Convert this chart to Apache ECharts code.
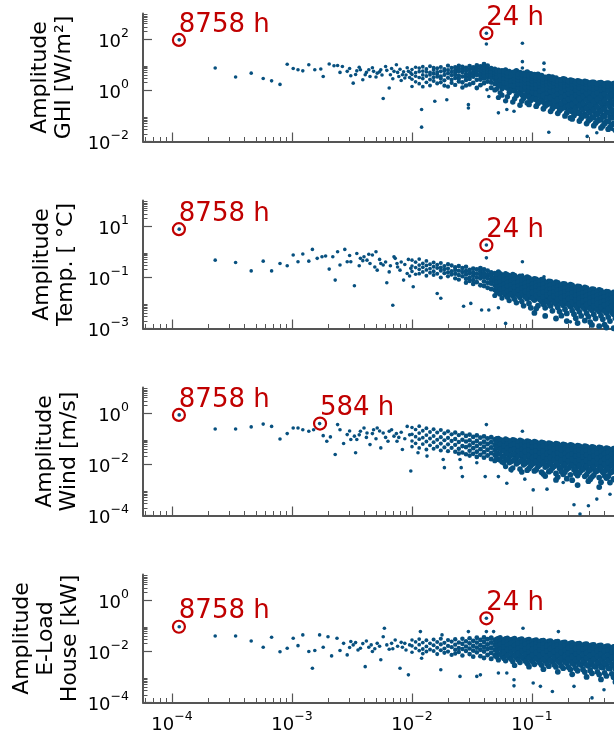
<!DOCTYPE html>
<html><head><meta charset="utf-8">
<script src="https://cdn.jsdelivr.net/npm/echarts@6/dist/echarts.min.js"></script>
<style>html,body{margin:0;padding:0;background:#fff}#c{width:614px;height:732px}</style>
</head><body><div id="c"></div><script>
// ---- DATA (stored as log10(frequency [1/h]), log10(amplitude)) ----
const panelNames = ['Amplitude\nGHI [W/m\u00b2]', 'Amplitude\nTemp. [ \u00b0C]', 'Amplitude\nWind [m/s]', 'Amplitude\nE-Load\nHouse [kW]'];
const xMajorTicks = [1e-4, 1e-3, 1e-2, 1e-1, 1];
const xLabelTicks = [1e-4, 1e-3, 1e-2, 1e-1];
const ghiYRange = [1e-2, 1e3], ghiYMajor = [1e-2, 1, 1e2];
const tempYRange = [1e-3, 1e2], tempYMajor = [1e-3, 1e-1, 1e1];
const windYRange = [1e-4, 1e1], windYMajor = [1e-4, 1e-2, 1];
const loadYRange = [1e-4, 1e1], loadYMajor = [1e-4, 1e-2, 1];

// annotated peaks: period [h], amplitude
const ghiPeakHours = [8758, 24], ghiPeakAmps = [93, 170];
const tempPeakHours = [8758, 24], tempPeakAmps = [7.6, 1.8];
const windPeakHours = [8758, 584], windPeakAmps = [0.85, 0.39];
const loadPeakHours = [8758, 24], loadPeakAmps = [0.091, 0.195];

const ghiSparse = [[-3.94,1.97],[-3.64,.87],[-3.47,.52],[-3.34,.67],[-3.24,.46],[-3.17,.37],[-3.10,.23],[-3.04,1.02],[-2.99,.85],[-2.95,.8],[-2.91,.76],[-2.86,1.0],[-2.81,.8],[-2.76,.83],[-2.74,.54],[-2.69,1.03],[-2.65,.96],[-2.62,.97],[-2.60,.7],[-2.58,.93],[-2.54,.74],[-2.52,.85],[-2.51,.57],[-2.49,.28],[-2.47,.62],[-2.46,.76],[-2.44,.9],[-2.43,.8],[-2.41,.41],[-2.39,.61],[-2.38,.7],[-2.36,.8],[-2.35,.54],[-2.33,.88],[-2.32,.74],[-2.30,.52],[-2.29,.67],[-2.27,.72],[-2.26,.8],[-2.25,.6],[-2.24,-.32],[-2.22,.93],[-2.21,.78],[-2.19,.09],[-2.18,.61],[-2.17,.85],[-2.16,.45],[-2.15,.74],[-2.13,1.0],[-2.12,.7],[-2.11,.54],[-2.10,.82],[-2.09,.38],[-2.08,.61],[-2.07,.72],[-2.06,.48],[-2.05,.6],[-2.04,.88],[-2.03,.74],[-2.02,.5],[-2.01,.68],
[-1.92,-.75],[-1.92,-1.44],[-1.81,-.43],[-1.71,-.37],[-1.53,-.56],[-1.53,-.69],[-1.375,.02],[-1.36,-.24],[-1.38,2.23],[-1.38,1.81],[-1.28,-.88],[-1.21,-.75],[-1.15,-.82],[-1.08,1.84],[-1.08,1.12],[-1.08,.87],[-0.9,1.06],[-0.9,.8],[-0.86,-1.64],[-0.54,-1.8],[-0.46,-1.66],[-0.33,-1.53]];
const ghiCols = [[-2.00,.15,.43,.62,.81],[-1.97,.33,.55,.69,.9],[-1.94,.26,.5,.73,.87],[-1.91,.14,.46,.6,.75,.92],[-1.88,.31,.56,.72,.83],[-1.85,.19,.42,.61,.7,.94],[-1.82,.36,.51,.66,.79,.88],[-1.79,.27,.53,.63,.71,.86],[-1.76,.31,.46,.55,.74,.91],[-1.73,.18,.39,.6,.75,.83],[-1.70,.14,.49,.66,.79,.96],[-1.67,.29,.42,.59,.72,.87],[-1.64,.21,.48,.61,.69,.78,.9],[-1.61,.34,.46,.58,.74,.84,.96],[-1.58,.11,.31,.54,.71,.8,.92],[-1.55,.19,.4,.52,.63,.76,.88],[-1.52,.23,.44,.55,.67,.81,.95],[-1.49,.29,.53,.63,.71,.83,.9],[-1.46,.09,.41,.6,.74,.86,.97],[-1.43,.2,.42,.56,.66,.79,.93],[-1.40,.28,.46,.59,.7,.81,.9,1.02],[-1.37,.34,.5,.61,.73,.84,.96],[-1.34,.1,.31,.49,.62,.74,.86],[-1.31,.01,.26,.44,.56,.63,.71,.83],[-1.28,-.28,.16,.34,.49,.6,.71,.79],[-1.25,-.19,.06,.29,.45,.56,.66,.77],[-1.22,-.41,.19,.39,.51,.61,.69,.8],[-1.19,-.09,.16,.34,.5,.62,.74],[-1.16,-.46,.04,.26,.39,.52,.61,.7],[-1.13,-.21,.11,.3,.43,.54,.64,.76],[-1.10,-.58,-.04,.21,.34,.47,.58,.69],[-1.07,-.31,.01,.19,.36,.46,.55,.66],[-1.04,-.49,-.11,.1,.27,.39,.5,.59,.71],[-1.01,-.39,-.16,.06,.21,.33,.44,.56,.64],[-0.98,-.26,.01,.15,.29,.41,.52,.61],[-0.95,-.51,-.21,.04,.2,.34,.46,.54,.62],[-0.92,-.36,-.09,.11,.24,.38,.49,.57],[-0.89,-.61,-.29,-.04,.14,.3,.41,.5],[-0.86,-.44,-.19,.01,.17,.31,.42,.53],[-0.83,-.71,-.39,-.14,.06,.2,.33,.44,.51],[-0.80,-.56,-.31,-.09,.11,.26,.37,.47],[-0.77,-.79,-.49,-.24,-.01,.16,.29,.41],[-0.74,-.66,-.41,-.16,.06,.21,.34,.45],[-0.71,-.88,-.54,-.31,-.09,.1,.24,.37],[-0.68,-1.08,-.74,-.46,-.19,.01,.16,.3,.4],[-0.65,-.98,-.61,-.34,-.11,.08,.22,.35],[-0.62,-.84,-.51,-.26,-.04,.13,.27,.37],[-0.59,-1.09,-.69,-.41,-.14,.05,.19,.32],[-0.56,-.94,-.59,-.31,-.07,.1,.24,.35],[-0.53,-1.19,-.79,-.49,-.21,.01,.17,.29],[-0.50,-1.04,-.69,-.39,-.16,.06,.2,.31],[-0.47,-1.28,-.89,-.56,-.26,-.01,.14,.27],[-0.44,-1.14,-.76,-.44,-.19,.03,.17,.29],[-0.41,-1.39,-.99,-.61,-.31,-.06,.12,.26],[-0.38,-1.21,-.84,-.51,-.23,.01,.15,.27],[-0.35,-1.44,-1.04,-.66,-.36,-.11,.09,.24],[-0.32,-1.29,-.91,-.54,-.24,-.03,.14,.26],[-0.29,-1.49,-1.09,-.69,-.39,-.13,.07,.23]];
const ghiColsB = [[-1.295,.05,.37,.52,.68,.77],[-1.265,-.1,.22,.4,.58,.74],[-1.235,.12,.3,.47,.64,.75],[-1.205,-.25,.08,.27,.43,.57,.68],[-1.175,-.02,.2,.36,.55,.66],[-1.145,-.33,-.03,.17,.35,.48,.6,.72],[-1.115,-.12,.09,.26,.41,.52,.63],[-1.085,-.42,-.17,.05,.24,.4,.51,.62],[-1.055,-.2,.04,.14,.31,.43,.6],[-1.025,-.55,-.27,-.03,.15,.29,.45,.58],[-0.995,-.33,-.08,.1,.25,.37,.49,.57],[-0.965,-.62,-.36,-.13,.09,.24,.4,.51],[-0.935,-.44,-.21,-.02,.17,.3,.43,.53],[-0.905,-.72,-.46,-.2,.05,.22,.34,.46],[-0.875,-.55,-.3,-.09,.08,.24,.36,.48],[-0.845,-.82,-.53,-.28,-.04,.13,.27,.39,.47],[-0.815,-.63,-.42,-.19,0,.17,.3,.43],[-0.785,-.9,-.62,-.35,-.12,.07,.22,.36],[-0.755,-.72,-.52,-.27,-.05,.12,.27,.4],[-0.725,-1.0,-.68,-.42,-.2,.03,.18,.32,.43],[-0.695,-.8,-.6,-.35,-.12,.06,.21,.35],[-0.665,-1.12,-.83,-.55,-.28,-.07,.12,.27,.38],[-0.635,-.9,-.7,-.44,-.18,.02,.18,.31],[-0.605,-1.2,-.9,-.6,-.32,-.1,.1,.25,.35],[-0.575,-1.0,-.77,-.52,-.24,-.02,.15,.3],[-0.545,-1.3,-1.0,-.7,-.38,-.12,.08,.24,.33],[-0.515,-1.13,-.86,-.58,-.3,-.06,.12,.27],[-0.485,-1.38,-1.07,-.76,-.44,-.16,.05,.22,.31],[-0.455,-1.2,-.95,-.65,-.35,-.1,.09,.25],[-0.425,-1.47,-1.15,-.82,-.49,-.2,.03,.2,.3],[-0.395,-1.3,-1.02,-.72,-.4,-.13,.07,.22],[-0.365,-1.52,-1.22,-.88,-.55,-.25,0,.17,.28],[-0.335,-1.36,-1.08,-.78,-.46,-.17,.05,.21],[-0.305,-1.56,-1.27,-.94,-.6,-.3,-.05,.15,.27],[-0.275,-1.4,-1.14,-.84,-.5,-.2,.03,.2]];

const tempSparse = [[-3.94,.88],[-3.64,-.33],[-3.47,-.42],[-3.34,-.75],[-3.24,-.37],[-3.17,-.75],[-3.10,-.46],[-3.04,-.55],[-2.99,-.13],[-2.95,-.39],[-2.91,-.09],[-2.86,-.37],[-2.83,.09],[-2.79,-.26],[-2.75,-.2],[-2.72,-.17],[-2.69,-.68],[-2.66,-.2],[-2.64,-1.11],[-2.62,0],[-2.60,-.52],[-2.56,.09],[-2.54,-.39],[-2.52,-.15],[-2.51,-.39],[-2.48,-1.33],[-2.46,-.07],[-2.44,-.55],[-2.43,-.26],[-2.41,-.35],[-2.40,-.2],[-2.375,-.33],[-2.36,-.1],[-2.35,-.46],[-2.33,-.13],[-2.31,-.6],[-2.30,0],[-2.29,-.72],[-2.27,-.3],[-2.26,-.46],[-2.24,-.52],[-2.22,-.4],[-2.21,-1.21],[-2.19,-.79],[-2.18,-.55],[-2.16,-2.09],[-2.15,-.2],[-2.14,-.26],[-2.125,-.46],[-2.12,-.6],[-2.10,-.72],[-2.09,-.4],[-2.07,-1.11],[-2.06,-.5],[-2.04,-.85],[-2.03,-.3],[-2.02,-.95],[-2.01,-.65],
[-1.99,-1.37],[-1.79,-1.63],[-1.76,-1.82],[-1.57,-2.13],[-1.51,-2.02],[-1.42,-2.28],[-1.36,-2.28],[-1.28,-2.19],[-1.22,-2.8],[-1.38,.26],[-1.38,-.24],[-1.08,-.39],[-1.08,-.91],[-0.9,-.98],[-0.9,-1.18],[-0.78,-1.3],[-0.68,-2.74]];
const tempCols = [[-2.00,-.33,-.56,-.77],[-1.97,-.41,-.62,-.88],[-1.94,-.29,-.52,-.69,-.86],[-1.91,-.46,-.61,-.79],[-1.88,-.36,-.54,-.71,-.94],[-1.85,-.49,-.66,-.82],[-1.82,-.42,-.59,-.76,-.91],[-1.79,-.51,-.64,-.86],[-1.76,-.44,-.62,-.74,-1.01],[-1.73,-.56,-.69,-.84],[-1.70,-.49,-.66,-.81,-.96],[-1.67,-.54,-.76,-.89],[-1.64,-.61,-.71,-.86,-1.04],[-1.61,-.56,-.74,-.91,-1.09],[-1.58,-.64,-.79,-.96],[-1.55,-.59,-.76,-.89,-1.06,-1.21],[-1.52,-.71,-.84,-1.01,-1.14],[-1.49,-.66,-.81,-.94,-1.11,-1.26],[-1.46,-.69,-.86,-1.01,-1.19],[-1.43,-.64,-.76,-.91,-1.04,-1.31],[-1.40,-.69,-.84,-.99,-1.16,-1.34],[-1.37,-.74,-.91,-1.04,-1.21,-1.41],[-1.34,-.81,-.94,-1.11,-1.24,-1.46],[-1.31,-.84,-1.01,-1.14,-1.31,-1.49,-1.71],[-1.28,-.79,-.96,-1.09,-1.26,-1.41,-1.61],[-1.25,-.91,-1.04,-1.21,-1.36,-1.54,-1.81],[-1.22,-.86,-.99,-1.16,-1.29,-1.46,-1.69],[-1.19,-.94,-1.11,-1.24,-1.41,-1.59,-1.91],[-1.16,-.89,-1.06,-1.19,-1.36,-1.51,-1.74],[-1.13,-1.01,-1.14,-1.31,-1.44,-1.66,-1.99],[-1.10,-.96,-1.09,-1.26,-1.39,-1.56,-1.79],[-1.07,-1.04,-1.21,-1.34,-1.51,-1.69,-2.11],[-1.04,-.99,-1.16,-1.29,-1.46,-1.61,-1.84],[-1.01,-1.11,-1.24,-1.41,-1.54,-1.76,-2.19],[-0.98,-1.06,-1.19,-1.36,-1.49,-1.66,-1.89,-2.39],[-0.95,-1.14,-1.31,-1.44,-1.61,-1.79,-2.11],[-0.92,-1.09,-1.26,-1.39,-1.56,-1.71,-1.94],[-0.89,-1.21,-1.34,-1.51,-1.64,-1.86,-2.19,-2.51],[-0.86,-1.16,-1.29,-1.46,-1.59,-1.76,-2.01],[-0.83,-1.24,-1.41,-1.54,-1.71,-1.89,-2.31],[-0.80,-1.19,-1.36,-1.49,-1.66,-1.81,-2.04,-2.61],[-0.77,-1.31,-1.44,-1.61,-1.74,-1.96,-2.34],[-0.74,-1.26,-1.39,-1.56,-1.69,-1.86,-2.09],[-0.71,-1.34,-1.51,-1.64,-1.81,-1.99,-2.41,-2.71],[-0.68,-1.29,-1.46,-1.59,-1.76,-1.91,-2.14],[-0.65,-1.41,-1.54,-1.71,-1.84,-2.06,-2.44],[-0.62,-1.36,-1.49,-1.66,-1.79,-1.96,-2.21,-2.79],[-0.59,-1.44,-1.61,-1.74,-1.91,-2.09,-2.51],[-0.56,-1.39,-1.56,-1.69,-1.86,-2.01,-2.24,-2.69],[-0.53,-1.51,-1.64,-1.81,-1.94,-2.16,-2.54],[-0.50,-1.46,-1.59,-1.76,-1.89,-2.06,-2.29,-2.86],[-0.47,-1.54,-1.71,-1.84,-2.01,-2.19,-2.61],[-0.44,-1.49,-1.66,-1.79,-1.96,-2.11,-2.34,-2.91],[-0.41,-1.61,-1.74,-1.91,-2.04,-2.26,-2.64],[-0.38,-1.56,-1.69,-1.86,-1.99,-2.16,-2.39,-2.96],[-0.35,-1.64,-1.81,-1.94,-2.11,-2.29,-2.71],[-0.32,-1.59,-1.76,-1.89,-2.06,-2.21,-2.44,-2.99],[-0.29,-1.71,-1.84,-2.01,-2.14,-2.36,-2.76]];
const tempColsB = [[-1.295,-.9,-1.07,-1.2,-1.38,-1.56],[-1.265,-.86,-1.0,-1.17,-1.33,-1.47,-1.66],[-1.235,-.95,-1.12,-1.27,-1.43,-1.62],[-1.205,-.9,-1.05,-1.2,-1.35,-1.52,-1.78],[-1.175,-.98,-1.15,-1.3,-1.47,-1.66],[-1.145,-.93,-1.09,-1.23,-1.39,-1.57,-1.86],[-1.115,-1.03,-1.19,-1.34,-1.5,-1.71],[-1.085,-.98,-1.14,-1.29,-1.44,-1.62,-1.95],[-1.055,-1.08,-1.24,-1.38,-1.55,-1.77],[-1.025,-1.03,-1.19,-1.33,-1.48,-1.67,-2.02],[-0.995,-1.13,-1.28,-1.43,-1.59,-1.82],[-0.965,-1.08,-1.23,-1.37,-1.53,-1.72,-2.22],[-0.935,-1.17,-1.33,-1.47,-1.64,-1.87],[-0.905,-1.12,-1.28,-1.42,-1.58,-1.77,-2.05],[-0.875,-1.22,-1.37,-1.52,-1.69,-1.93],[-0.845,-1.17,-1.32,-1.47,-1.63,-1.82,-2.12],[-0.815,-1.27,-1.42,-1.57,-1.73,-1.97],[-0.785,-1.22,-1.37,-1.52,-1.68,-1.87,-2.18],[-0.755,-1.32,-1.47,-1.62,-1.78,-2.02,-2.5],[-0.725,-1.27,-1.42,-1.57,-1.73,-1.92,-2.25],[-0.695,-1.37,-1.52,-1.67,-1.83,-2.07],[-0.665,-1.32,-1.47,-1.62,-1.78,-1.97,-2.3],[-0.635,-1.42,-1.57,-1.72,-1.88,-2.12,-2.6],[-0.605,-1.37,-1.52,-1.67,-1.83,-2.02,-2.35],[-0.575,-1.47,-1.62,-1.77,-1.93,-2.17],[-0.545,-1.42,-1.57,-1.72,-1.88,-2.07,-2.4],[-0.515,-1.52,-1.67,-1.82,-1.98,-2.22,-2.75],[-0.485,-1.47,-1.62,-1.77,-1.93,-2.12,-2.45],[-0.455,-1.57,-1.72,-1.87,-2.03,-2.27],[-0.425,-1.52,-1.67,-1.82,-1.98,-2.17,-2.5],[-0.395,-1.62,-1.77,-1.92,-2.08,-2.32,-2.85],[-0.365,-1.57,-1.72,-1.87,-2.03,-2.22,-2.55],[-0.335,-1.67,-1.82,-1.97,-2.13,-2.37],[-0.305,-1.62,-1.77,-1.92,-2.08,-2.27,-2.6],[-0.275,-1.72,-1.87,-2.02,-2.18,-2.42,-2.9]];

const windSparse = [[-3.94,-.07],[-3.64,-.62],[-3.47,-.62],[-3.34,-.54],[-3.24,-.43],[-3.17,-.52],[-3.10,-1.01],[-3.04,-.8],[-2.99,-.58],[-2.95,-.58],[-2.91,-.65],[-2.86,-.71],[-2.82,-.65],[-2.77,-.41],[-2.74,-.88],[-2.71,-1.1],[-2.68,-.93],[-2.64,-1.62],[-2.62,-.45],[-2.60,-.65],[-2.57,-1.19],[-2.54,-.84],[-2.52,-.7],[-2.51,-1.03],[-2.48,-.9],[-2.47,-1.55],[-2.46,-1.03],[-2.44,-.85],[-2.43,-.71],[-2.40,-.58],[-2.38,-.95],[-2.375,-.78],[-2.35,-1.23],[-2.33,-.8],[-2.32,-.65],[-2.30,-1.0],[-2.29,-.58],[-2.27,-.7],[-2.26,-1.36],[-2.24,-.78],[-2.22,-.95],[-2.20,-1.1],[-2.19,-.71],[-2.17,-.65],[-2.15,-.9],[-2.13,-.8],[-2.125,-1.1],[-2.11,-.95],[-2.09,-.75],[-2.08,-1.42],[-2.06,-1.0],[-2.04,-.52],[-2.02,-.85],
[-2.01,-2.26],[-1.95,-1.55],[-1.875,-1.68],[-1.74,-1.81],[-1.73,-2.13],[-1.60,-1.81],[-1.59,-2.13],[-1.58,-2.48],[-1.46,-1.94],[-1.39,-2.48],[-1.38,-.45],[-1.28,-2.48],[-1.21,-2.74],[-1.17,-2.26],[-1.08,-.71],[-1.06,-2.58],[-0.99,-3.0],[-0.875,-2.97],[-0.74,-2.71],[-0.65,-3.58],[-0.60,-3.94],[-0.53,-3.62],[-0.46,-3.36],[-0.35,-3.17]];
const windCols = [[-2.00,-.56,-.83,-1.09,-1.31],[-1.97,-.64,-.92,-1.18],[-1.94,-.51,-.78,-1.02,-1.36],[-1.91,-.69,-.96,-1.21],[-1.88,-.59,-.86,-1.11,-1.42],[-1.85,-.74,-.99,-1.26],[-1.82,-.63,-.89,-1.14,-1.39],[-1.79,-.76,-1.04,-1.31],[-1.76,-.66,-.94,-1.19,-1.46],[-1.73,-.79,-1.06,-1.34],[-1.70,-.71,-.97,-1.22,-1.49],[-1.67,-.83,-1.09,-1.36],[-1.64,-.76,-1.01,-1.24,-1.51],[-1.61,-.86,-1.13,-1.39,-1.58],[-1.58,-.79,-1.04,-1.29,-1.54],[-1.55,-.89,-1.11,-1.33,-1.61],[-1.52,-.84,-1.06,-1.26,-1.47,-1.66],[-1.49,-.93,-1.16,-1.37,-1.59],[-1.46,-.87,-1.09,-1.29,-1.51,-1.71],[-1.43,-.96,-1.19,-1.41,-1.63],[-1.40,-.91,-1.12,-1.31,-1.53,-1.74],[-1.37,-.99,-1.21,-1.43,-1.66],[-1.34,-.94,-1.14,-1.34,-1.56,-1.79],[-1.31,-1.03,-1.24,-1.44,-1.64,-1.86],[-1.28,-.99,-1.18,-1.37,-1.58,-1.81],[-1.25,-1.06,-1.26,-1.46,-1.69,-1.91],[-1.22,-1.01,-1.21,-1.39,-1.61,-1.84,-2.09],[-1.19,-1.09,-1.29,-1.49,-1.71,-1.94],[-1.16,-1.04,-1.23,-1.41,-1.63,-1.86,-2.14],[-1.13,-1.11,-1.31,-1.51,-1.74,-1.99],[-1.10,-1.06,-1.26,-1.44,-1.66,-1.89,-2.19],[-1.07,-1.14,-1.34,-1.54,-1.76,-2.02],[-1.04,-1.09,-1.29,-1.47,-1.69,-1.91,-2.23],[-1.01,-1.16,-1.36,-1.56,-1.79,-2.06],[-0.98,-1.12,-1.31,-1.49,-1.71,-1.94,-2.26],[-0.95,-1.19,-1.39,-1.59,-1.81,-2.09],[-0.92,-1.14,-1.34,-1.52,-1.74,-1.97,-2.31],[-0.89,-1.21,-1.41,-1.61,-1.84,-2.11,-2.46],[-0.86,-1.17,-1.36,-1.54,-1.76,-1.99,-2.29],[-0.83,-1.24,-1.44,-1.64,-1.86,-2.14],[-0.80,-1.19,-1.39,-1.57,-1.79,-2.02,-2.36,-2.61],[-0.77,-1.27,-1.47,-1.67,-1.89,-2.16],[-0.74,-1.22,-1.41,-1.59,-1.81,-2.04,-2.39],[-0.71,-1.29,-1.49,-1.69,-1.91,-2.19,-2.56],[-0.68,-1.24,-1.44,-1.62,-1.84,-2.07,-2.41],[-0.65,-1.31,-1.51,-1.71,-1.94,-2.21],[-0.62,-1.27,-1.46,-1.64,-1.86,-2.09,-2.44,-2.81],[-0.59,-1.34,-1.54,-1.74,-1.96,-2.24],[-0.56,-1.29,-1.49,-1.67,-1.89,-2.12,-2.47],[-0.53,-1.37,-1.57,-1.77,-1.99,-2.27,-2.66],[-0.50,-1.32,-1.51,-1.69,-1.91,-2.14,-2.49],[-0.47,-1.39,-1.59,-1.79,-2.01,-2.29],[-0.44,-1.34,-1.54,-1.72,-1.94,-2.17,-2.52,-2.89],[-0.41,-1.42,-1.62,-1.82,-2.04,-2.31],[-0.38,-1.37,-1.56,-1.74,-1.96,-2.19,-2.54],[-0.35,-1.44,-1.64,-1.84,-2.06,-2.34,-2.71],[-0.32,-1.39,-1.59,-1.77,-1.99,-2.22,-2.57],[-0.29,-1.47,-1.67,-1.87,-2.09,-2.37]];
const windColsB = [[-1.295,-1.0,-1.14,-1.34,-1.54,-1.75],[-1.265,-1.04,-1.2,-1.4,-1.6,-1.84],[-1.235,-1.08,-1.27,-1.48,-1.72,-1.95],[-1.205,-1.05,-1.19,-1.38,-1.58,-1.79],[-1.175,-1.1,-1.26,-1.45,-1.66,-1.9,-2.2],[-1.145,-1.06,-1.21,-1.4,-1.6,-1.81],[-1.115,-1.13,-1.28,-1.48,-1.69,-1.93],[-1.085,-1.09,-1.24,-1.42,-1.62,-1.84,-2.3],[-1.055,-1.15,-1.3,-1.5,-1.71,-1.96],[-1.025,-1.11,-1.26,-1.45,-1.65,-1.87,-2.16],[-0.995,-1.18,-1.33,-1.53,-1.74,-1.99],[-0.965,-1.14,-1.29,-1.48,-1.68,-1.9,-2.21],[-0.935,-1.2,-1.35,-1.55,-1.77,-2.02],[-0.905,-1.16,-1.31,-1.5,-1.7,-1.92,-2.38],[-0.875,-1.23,-1.38,-1.58,-1.8,-2.06],[-0.845,-1.19,-1.34,-1.53,-1.73,-1.95,-2.24],[-0.815,-1.25,-1.41,-1.61,-1.83,-2.08],[-0.785,-1.21,-1.36,-1.55,-1.75,-1.97,-2.5],[-0.755,-1.28,-1.43,-1.63,-1.85,-2.11,-2.28],[-0.725,-1.24,-1.39,-1.58,-1.78,-2.0,-2.3],[-0.695,-1.3,-1.46,-1.66,-1.88,-2.14],[-0.665,-1.26,-1.41,-1.6,-1.8,-2.02,-2.62],[-0.635,-1.33,-1.48,-1.68,-1.9,-2.17,-2.35],[-0.605,-1.29,-1.44,-1.63,-1.83,-2.05,-2.33],[-0.575,-1.35,-1.51,-1.71,-1.93,-2.19],[-0.545,-1.31,-1.46,-1.65,-1.85,-2.08,-2.4],[-0.515,-1.38,-1.53,-1.73,-1.95,-2.22,-2.58],[-0.485,-1.34,-1.49,-1.68,-1.88,-2.1,-2.42],[-0.455,-1.4,-1.56,-1.76,-1.98,-2.25],[-0.425,-1.36,-1.51,-1.7,-1.9,-2.13,-2.7],[-0.395,-1.43,-1.58,-1.78,-2.0,-2.27,-2.45],[-0.365,-1.39,-1.54,-1.73,-1.93,-2.15,-2.48],[-0.335,-1.45,-1.61,-1.81,-2.03,-2.3],[-0.305,-1.41,-1.56,-1.75,-1.95,-2.18,-2.62],[-0.275,-1.48,-1.63,-1.83,-2.05,-2.32]];

const loadSparse = [[-3.94,-1.04],[-3.64,-1.4],[-3.47,-1.4],[-3.34,-1.6],[-3.24,-1.84],[-3.17,-1.45],[-3.10,-2.02],[-3.04,-1.88],[-2.99,-1.49],[-2.95,-1.78],[-2.91,-1.36],[-2.86,-2.01],[-2.83,-2.66],[-2.81,-1.97],[-2.77,-1.36],[-2.74,-1.84],[-2.70,-1.43],[-2.67,-2.18],[-2.625,-1.49],[-2.60,-1.97],[-2.57,-1.69],[-2.54,-2.14],[-2.52,-1.85],[-2.51,-1.62],[-2.49,-1.75],[-2.47,-1.66],[-2.45,-1.95],[-2.43,-1.88],[-2.41,-1.7],[-2.39,-2.6],[-2.38,-1.6],[-2.36,-1.84],[-2.34,-1.75],[-2.33,-2.01],[-2.31,-1.9],[-2.29,-1.69],[-2.27,-1.8],[-2.26,-2.33],[-2.24,-1.43],[-2.23,-1.1],[-2.21,-1.75],[-2.19,-1.92],[-2.17,-1.69],[-2.16,-1.9],[-2.14,-1.56],[-2.12,-1.8],[-2.10,-2.66],[-2.09,-1.65],[-2.08,-1.84],[-2.06,-1.69],[-2.05,-1.95],[-2.03,-2.92],[-2.02,-1.75],
[-1.93,-1.23],[-1.92,-2.27],[-1.76,-2.72],[-1.75,-1.36],[-1.60,-2.98],[-1.53,-1.23],[-1.46,-2.98],[-1.43,-2.92],[-1.38,-.71],[-1.38,-1.23],[-1.32,-1.23],[-1.28,-2.85],[-1.21,-2.85],[-1.15,-3.11],[-1.15,-3.35],[-1.075,-1.1],[-0.99,-3.24],[-0.93,-3.37],[-0.83,-3.57],[-0.78,-1.23],[-0.65,-3.37],[-0.50,-3.82],[-0.40,-3.5]];
const loadCols = [[-2.00,-1.56,-1.79,-2.04],[-1.97,-1.63,-1.88],[-1.94,-1.52,-1.74,-1.97],[-1.91,-1.66,-1.91,-2.09],[-1.88,-1.57,-1.81,-2.01],[-1.85,-1.69,-1.93],[-1.82,-1.54,-1.76,-1.99],[-1.79,-1.64,-1.86,-2.11],[-1.76,-1.51,-1.73,-1.96],[-1.73,-1.67,-1.89,-2.06],[-1.70,-1.56,-1.79,-2.01],[-1.67,-1.62,-1.84,-2.14],[-1.64,-1.53,-1.74,-1.94,-2.09],[-1.61,-1.66,-1.87,-2.03],[-1.58,-1.51,-1.71,-1.91,-2.16],[-1.55,-1.61,-1.81,-1.99],[-1.52,-1.49,-1.69,-1.89,-2.11],[-1.49,-1.59,-1.79,-1.97,-2.21],[-1.46,-1.47,-1.66,-1.86,-2.04],[-1.43,-1.56,-1.76,-1.94,-2.19],[-1.40,-1.46,-1.64,-1.83,-2.01,-2.26],[-1.37,-1.53,-1.73,-1.91,-2.14],[-1.34,-1.47,-1.66,-1.86,-2.06,-2.29],[-1.31,-1.56,-1.74,-1.94,-2.16],[-1.28,-1.49,-1.68,-1.87,-2.09,-2.34],[-1.25,-1.57,-1.77,-1.97,-2.21],[-1.22,-1.51,-1.71,-1.89,-2.11,-2.37],[-1.19,-1.59,-1.79,-1.99,-2.24],[-1.16,-1.53,-1.73,-1.92,-2.14,-2.41],[-1.13,-1.61,-1.81,-2.01,-2.26],[-1.10,-1.54,-1.74,-1.94,-2.16,-2.44],[-1.07,-1.63,-1.83,-2.03,-2.29],[-1.04,-1.56,-1.76,-1.96,-2.19,-2.47],[-1.01,-1.64,-1.84,-2.06,-2.31],[-0.98,-1.58,-1.78,-1.98,-2.21,-2.51],[-0.95,-1.66,-1.86,-2.08,-2.34],[-0.92,-1.59,-1.79,-2.01,-2.24,-2.54],[-0.89,-1.68,-1.89,-2.11,-2.37],[-0.86,-1.61,-1.81,-2.03,-2.27,-2.58],[-0.83,-1.69,-1.91,-2.13,-2.41],[-0.80,-1.63,-1.84,-2.06,-2.29,-2.61],[-0.77,-1.71,-1.93,-2.16,-2.44],[-0.74,-1.66,-1.87,-2.09,-2.33,-2.66],[-0.71,-1.74,-1.96,-2.19,-2.47],[-0.68,-1.69,-1.89,-2.12,-2.36,-2.71],[-0.65,-1.76,-1.99,-2.22,-2.51],[-0.62,-1.71,-1.92,-2.14,-2.39,-2.76],[-0.59,-1.79,-2.01,-2.24,-2.54],[-0.56,-1.73,-1.94,-2.17,-2.43,-2.81],[-0.53,-1.81,-2.04,-2.27,-2.57],[-0.50,-1.76,-1.97,-2.19,-2.46,-2.86],[-0.47,-1.84,-2.06,-2.29,-2.61],[-0.44,-1.78,-1.99,-2.22,-2.49,-2.91],[-0.41,-1.86,-2.09,-2.32,-2.64],[-0.38,-1.81,-2.02,-2.26,-2.53,-2.96],[-0.35,-1.89,-2.11,-2.35,-2.68],[-0.32,-1.83,-2.04,-2.28,-2.56,-3.01],[-0.29,-1.91,-2.14,-2.37,-2.71]];
const loadColsB = [[-1.295,-1.52,-1.62,-1.8,-1.99,-2.22],[-1.265,-1.47,-1.6,-1.71,-1.9,-2.12],[-1.235,-1.54,-1.65,-1.83,-2.02,-2.28],[-1.205,-1.49,-1.62,-1.74,-1.93,-2.16],[-1.175,-1.55,-1.68,-1.86,-2.05,-2.31],[-1.145,-1.5,-1.64,-1.77,-1.96,-2.19,-2.55],[-1.115,-1.57,-1.7,-1.88,-2.08,-2.34],[-1.085,-1.52,-1.66,-1.8,-1.99,-2.22],[-1.055,-1.59,-1.72,-1.9,-2.11,-2.38],[-1.025,-1.54,-1.68,-1.82,-2.02,-2.25,-2.6],[-0.995,-1.61,-1.74,-1.93,-2.14,-2.41],[-0.965,-1.56,-1.7,-1.85,-2.05,-2.28],[-0.935,-1.63,-1.76,-1.95,-2.17,-2.45],[-0.905,-1.58,-1.72,-1.87,-2.08,-2.32,-2.7],[-0.875,-1.65,-1.78,-1.98,-2.2,-2.49],[-0.845,-1.6,-1.74,-1.9,-2.11,-2.35],[-0.815,-1.67,-1.81,-2.01,-2.23,-2.53],[-0.785,-1.62,-1.76,-1.93,-2.14,-2.38,-2.8],[-0.755,-1.69,-1.83,-2.04,-2.27,-2.57],[-0.725,-1.65,-1.79,-1.96,-2.17,-2.41],[-0.695,-1.72,-1.86,-2.07,-2.3,-2.62],[-0.665,-1.67,-1.81,-1.99,-2.21,-2.46,-2.9],[-0.635,-1.74,-1.89,-2.1,-2.33,-2.66],[-0.605,-1.7,-1.84,-2.02,-2.24,-2.5],[-0.575,-1.77,-1.91,-2.13,-2.37,-2.71],[-0.545,-1.72,-1.87,-2.05,-2.27,-2.54,-3.0],[-0.515,-1.79,-1.94,-2.16,-2.4,-2.75],[-0.485,-1.75,-1.89,-2.08,-2.31,-2.58],[-0.455,-1.82,-1.97,-2.19,-2.44,-2.8],[-0.425,-1.77,-1.92,-2.11,-2.34,-2.62,-3.1],[-0.395,-1.84,-1.99,-2.22,-2.47,-2.84],[-0.365,-1.8,-1.95,-2.14,-2.37,-2.66],[-0.335,-1.87,-2.02,-2.25,-2.51,-2.88],[-0.305,-1.82,-1.97,-2.17,-2.41,-2.7,-3.2],[-0.275,-1.89,-2.05,-2.28,-2.54,-2.92]];

// ---- BUILD ----
const FONT = 'DejaVu Sans';
const DOT = '#07507f', RED = '#c00000', AX = '#555555';
const unlog = p => [Math.pow(10, p[0]), Math.pow(10, p[1])];
const colsToPts = cols => { const out = []; cols.forEach(c => { for (let i = 1; i < c.length; i++) out.push(unlog([c[0], c[i]])); }); return out; };
const minorOf = exps => { const r = []; exps.forEach(e => { for (let m = 2; m <= 9; m++) r.push(m * Math.pow(10, e)); }); return r; };
const xMinorTicks = minorOf([-5, -4, -3, -2, -1]);
const expLabel = v => { const e = Math.round(Math.log10(v)); return '{b|10}{s|' + (e < 0 ? '\u2212' + (-e) : e) + '}'; };
const rich = { b: { fontSize: 18, fontFamily: FONT, color: '#000', lineHeight: 24, verticalAlign: 'bottom' },
               s: { fontSize: 12.5, fontFamily: FONT, color: '#000', lineHeight: 24, verticalAlign: 'top' } };
// marker size grows where the spectrum's points crowd together (style only)
const denseSize = v => Math.max(3.6, Math.min(5.8, 3.6 + 2.2 * (Math.log10(v[0]) + 2)));

const yRanges = [ghiYRange, tempYRange, windYRange, loadYRange];
const yMajors = [ghiYMajor, tempYMajor, windYMajor, loadYMajor];
const sparseSets = [ghiSparse, tempSparse, windSparse, loadSparse];
const colSets = [ghiCols.concat(ghiColsB), tempCols.concat(tempColsB), windCols.concat(windColsB), loadCols.concat(loadColsB)];
const peakHours = [ghiPeakHours, tempPeakHours, windPeakHours, loadPeakHours];
const peakAmps = [ghiPeakAmps, tempPeakAmps, windPeakAmps, loadPeakAmps];
const tops = [13.5, 200.5, 387.5, 574.5];
const nameGaps = [67, 65, 62, 61];
const xMin = Math.pow(10, -4.2417);

const grids = [], xAxes = [], yAxes = [], series = [];
for (let i = 0; i < 4; i++) {
  grids.push({ left: 143, right: -38, top: tops[i], height: 128, containLabel: false, outerBoundsMode: 'none' });
  const baseX = { type: 'log', logBase: 10, gridIndex: i, position: 'bottom', min: xMin, max: 1, splitLine: { show: false } };
  xAxes.push(Object.assign({}, baseX, {
    axisLine: { show: true, lineStyle: { color: AX, width: 2 } },
    axisTick: { show: true, inside: true, length: 9, customValues: xMajorTicks, lineStyle: { color: AX, width: 1.2 } },
    axisLabel: { show: i === 3, customValues: xLabelTicks, margin: 8, formatter: expLabel, rich: rich }
  }));
  xAxes.push(Object.assign({}, baseX, {
    axisLine: { show: false },
    axisTick: { show: true, inside: true, length: 4.5, customValues: xMinorTicks, lineStyle: { color: AX, width: 1 } },
    axisLabel: { show: false }
  }));
  const yMin = yRanges[i][0], yMax = yRanges[i][1];
  const majExps = yMajors[i].map(v => Math.round(Math.log10(v)));
  const baseY = { type: 'log', logBase: 10, gridIndex: i, min: yMin, max: yMax, position: 'left', splitLine: { show: false } };
  yAxes.push(Object.assign({}, baseY, {
    name: panelNames[i], nameLocation: 'middle', nameRotate: 90, nameGap: nameGaps[i], nameMoveOverlap: false,
    nameTextStyle: { fontSize: 22, lineHeight: 24, fontFamily: FONT, color: '#000' },
    axisLine: { show: true, lineStyle: { color: AX, width: 2 } },
    axisTick: { show: true, inside: true, length: 9, customValues: yMajors[i], lineStyle: { color: AX, width: 1.2 } },
    axisLabel: { show: true, customValues: yMajors[i], margin: 14, formatter: expLabel, rich: rich }
  }));
  yAxes.push(Object.assign({}, baseY, {
    axisLine: { show: false },
    axisTick: { show: true, inside: true, length: 4.5, customValues: minorOf(majExps), lineStyle: { color: AX, width: 1 } },
    axisLabel: { show: false }
  }));
  series.push({ type: 'scatter', xAxisIndex: 2 * i, yAxisIndex: 2 * i, symbolSize: 3.6, itemStyle: { color: DOT, opacity: 1 },
    data: sparseSets[i].map(unlog), clip: true, silent: true, z: 2 });
  series.push({ type: 'scatter', xAxisIndex: 2 * i, yAxisIndex: 2 * i, symbolSize: denseSize, itemStyle: { color: DOT, opacity: 1 },
    data: colsToPts(colSets[i]), clip: true, silent: true, z: 2 });
  series.push({ type: 'scatter', xAxisIndex: 2 * i, yAxisIndex: 2 * i, symbol: 'circle', symbolSize: 12, z: 5,
    itemStyle: { color: 'rgba(0,0,0,0)', borderColor: RED, borderWidth: 2.2, opacity: 1 },
    label: { show: true, formatter: '{b}', position: [7, -8], align: 'left', verticalAlign: 'middle', color: RED, fontSize: 26, fontFamily: FONT },
    data: peakHours[i].map((h, k) => ({ name: h + ' h', value: [1 / h, peakAmps[i][k]] })) });
}

const chart = echarts.init(document.getElementById('c'), null, { renderer: 'canvas' });
chart.setOption({ animation: false, backgroundColor: '#fff', textStyle: { fontFamily: FONT },
  grid: grids, xAxis: xAxes, yAxis: yAxes, series: series });
</script></body></html>
